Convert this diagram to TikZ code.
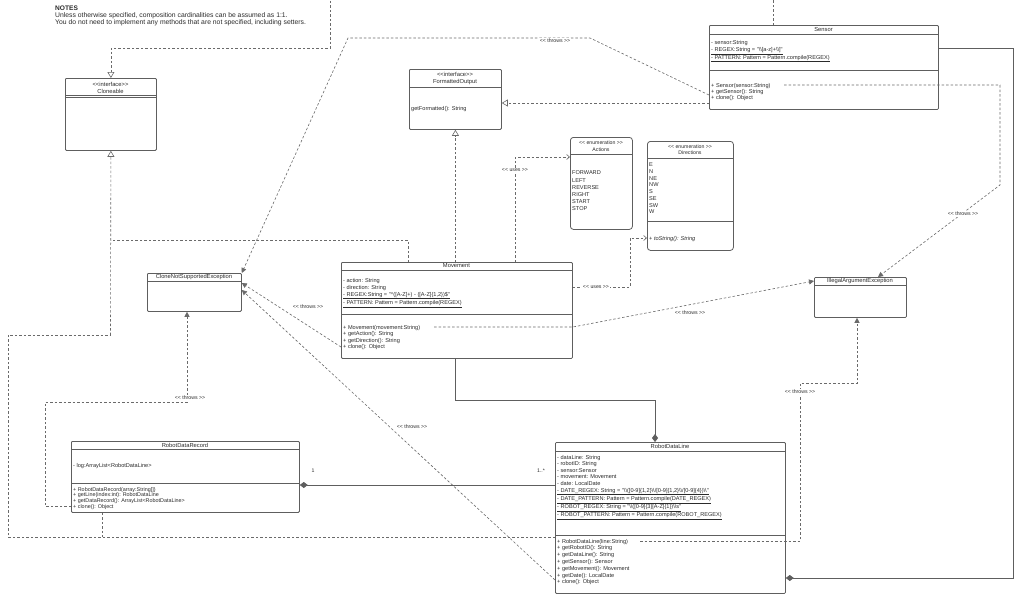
\documentclass[tikz,border=0pt]{standalone}
\usepackage{fontspec}
\setmainfont{Liberation Sans}[Ligatures=TeXOff]
\usetikzlibrary{arrows.meta}
\definecolor{linegray}{HTML}{5E5E5E}
\definecolor{linkgray}{HTML}{6A6A6A}
\definecolor{textgray}{HTML}{2B2B2B}

\tikzset{
    umlbox/.style={draw=linegray, fill=white, line width=0.8pt, rounded corners=1pt,
        anchor=north west, inner sep=0pt},
    enumbox/.style={umlbox, rounded corners=3pt},
    divider/.style={draw=linegray, line width=0.8pt},
    title/.style={font=\fontsize{5.8}{7}\selectfont, align=center, inner sep=0pt, text=textgray},
    members/.style={font=\fontsize{5.6}{6.6}\selectfont, align=left, anchor=north west,
        inner sep=0pt, text=textgray},
    tag/.style={font=\fontsize{5.2}{6}\selectfont, fill=white, inner sep=0.8pt, text=textgray},
    link/.style={draw=linkgray, line width=0.6pt, dash pattern=on 2.5pt off 2pt},
    realize/.style={link, -{Triangle[open, length=6pt, width=7pt]}},
    throws/.style={link, -{Triangle[length=5pt, width=5pt]}},
    uses/.style={link, -{Straight Barb[length=3pt, width=5pt]}},
    compose/.style={draw=linegray, line width=0.7pt, {Diamond[length=8pt, width=6pt]}-}
}

\begin{document}
\begin{tikzpicture}[x=1pt, y=-1pt]
    \useasboundingbox[fill=white] (0,0) rectangle (1024,597);

    % notes
    \node[anchor=west, inner sep=0pt, font=\fontsize{6.6}{7}\selectfont\bfseries, text=textgray] (notes) at (55,8) {NOTES};
    \node[members, font=\fontsize{6.8}{7.2}\selectfont] (notetext) at (55,12.2) {Unless otherwise specified, composition cardinalities can be assumed as 1:1.\\You do not need to implement any methods that are not specified, including setters.};

    % interfaces
    \node[umlbox, minimum width=91pt, minimum height=72pt] (cloneable) at (65,78) {};
    \draw[divider] (cloneable.west |- 0,95.5) -- (cloneable.east |- 0,95.5);
    \draw[divider] (cloneable.west |- 0,97.3) -- (cloneable.east |- 0,97.3);
    \node[title] at (110.5,87.5) {<<interface>>\\Cloneable};

    \node[umlbox, minimum width=92pt, minimum height=60pt] (formatted) at (409,69) {};
    \draw[divider] (formatted.west |- 0,87) -- (formatted.east |- 0,87);
    \node[title] at (455,78) {<<interface>>\\FormattedOutput};
    \node[members] at (411,105.8) {getFormatted(): String};

    % Sensor
    \node[umlbox, minimum width=229pt, minimum height=84pt] (sensor) at (709,25) {};
    \draw[divider] (sensor.west |- 0,34) -- (sensor.east |- 0,34);
    \draw[divider] (sensor.west |- 0,70) -- (sensor.east |- 0,70);
    \node[title] at (823.5,29.5) {Sensor};
    \node[members, font=\fontsize{5.6}{7.5}\selectfont] at (711,39.8) {- sensor:String\\\underline{- REGEX:String = "\textbackslash\textbackslash[a-z]+\textbackslash\textbackslash]"}\\\underline{- PATTERN: Pattern = Pattern.compile(REGEX)}};
    \node[members, font=\fontsize{5.6}{6.3}\selectfont] at (711,82.8) {+ Sensor(sensor:String)\\+ getSensor(): String\\+ clone(): Object};

    % enumerations
    \node[enumbox, minimum width=62pt, minimum height=92pt] (actions) at (570,137) {};
    \draw[divider] (actions.west |- 0,154) -- (actions.east |- 0,154);
    \node[title, font=\fontsize{5.2}{6.5}\selectfont] at (601,146) {<< enumeration >>\\Actions};
    \node[members, font=\fontsize{5.6}{7.2}\selectfont] at (572,170.8) {FORWARD\\LEFT\\REVERSE\\RIGHT\\START\\STOP};

    \node[enumbox, minimum width=86pt, minimum height=109pt] (directions) at (647,141) {};
    \draw[divider] (directions.west |- 0,158) -- (directions.east |- 0,158);
    \draw[divider] (directions.west |- 0,221) -- (directions.east |- 0,221);
    \node[title, font=\fontsize{5.2}{6.5}\selectfont] at (690,149.5) {<< enumeration >>\\Directions};
    \node[members, font=\fontsize{5.6}{6.7}\selectfont] at (649,162.8) {E\\N\\NE\\NW\\S\\SE\\SW\\W};
    \node[members] at (649,235.8) {+ \textit{toString(): String}};

    % Movement
    \node[umlbox, minimum width=231pt, minimum height=96pt] (movement) at (341,262) {};
    \draw[divider] (movement.west |- 0,270) -- (movement.east |- 0,270);
    \draw[divider] (movement.west |- 0,314) -- (movement.east |- 0,314);
    \node[title] at (456.5,266) {Movement};
    \node[members, font=\fontsize{5.6}{7}\selectfont] at (343,277.8) {- action: String\\- direction: String\\\underline{- REGEX:String = "\textasciicircum([A-Z]+) - ([A-Z]\{1,2\})\$"}\\\underline{- PATTERN: Pattern = Pattern.compile(REGEX)}};
    \node[members, font=\fontsize{5.6}{6.5}\selectfont] at (343,324.8) {+ Movement(movement:String)\\+ getAction(): String\\+ getDirection(): String\\+ clone(): Object};

    % exceptions
    \node[umlbox, minimum width=94pt, minimum height=38pt] (cnse) at (147,273) {};
    \draw[divider] (cnse.west |- 0,281) -- (cnse.east |- 0,281);
    \node[title] at (194,277) {CloneNotSupportedException};

    \node[umlbox, minimum width=92pt, minimum height=40pt] (iae) at (814,277) {};
    \draw[divider] (iae.west |- 0,285) -- (iae.east |- 0,285);
    \node[title] at (860,281) {IllegalArgumentException};

    % RobotDataRecord
    \node[umlbox, minimum width=228pt, minimum height=71pt] (rdr) at (71,441) {};
    \draw[divider] (rdr.west |- 0,449) -- (rdr.east |- 0,449);
    \draw[divider] (rdr.west |- 0,483) -- (rdr.east |- 0,483);
    \node[title] at (185,445) {RobotDataRecord};
    \node[members] at (73,462.8) {- log:ArrayList<RobotDataLine>};
    \node[members, font=\fontsize{5.4}{5.8}\selectfont] at (73,487) {+ RobotDataRecord(array:String[])\\+ getLine(index:int): RobotDataLine\\+ getDataRecord(): ArrayList<RobotDataLine>\\+ clone(): Object};

    % RobotDataLine
    \node[umlbox, minimum width=230pt, minimum height=151pt] (rdl) at (555,442) {};
    \draw[divider] (rdl.west |- 0,451) -- (rdl.east |- 0,451);
    \draw[divider] (rdl.west |- 0,535) -- (rdl.east |- 0,535);
    \node[title] at (670,446.5) {RobotDataLine};
    \node[members, font=\fontsize{5.6}{6.6}\selectfont] at (557,454.8) {- dataLine: String\\- robotID: String\\- sensor:Sensor\\- movement: Movement\\- date: LocalDate\\\underline{- DATE\_REGEX: String = "\textbackslash\textbackslash([0-9]\{1,2\}\textbackslash\textbackslash/[0-9]\{1,2\}\textbackslash\textbackslash/[0-9]\{4\})\textbackslash\textbackslash"}\\\underline{- DATE\_PATTERN: Pattern = Pattern.compile(DATE\_REGEX)}\\\underline{- ROBOT\_REGEX: String = "\textbackslash\textbackslash([0-9]\{3\}[A-Z]\{1\})\textbackslash\textbackslash s"}\\\underline{- ROBOT\_PATTERN: Pattern = Pattern.compile(ROBOT\_REGEX)}};
    \node[members, font=\fontsize{5.6}{6.8}\selectfont] at (557,538.8) {+ RobotDataLine(line:String)\\+ getRobotID(): String\\+ getDataLine(): String\\+ getSensor(): Sensor\\+ getMovement(): Movement\\+ getDate(): LocalDate\\+ clone(): Object};

    % realizations of Cloneable
    \coordinate (cltrunk) at (110.5,335);
    \draw[realize] (cltrunk) -- (cloneable.south);
    \draw[link] (movement.north -| 408,0) |- (110.5,240);
    \draw[link] (rdl.west |- 0,537) -- (8,537) |- (cltrunk);
    \draw[link] (rdr.south -| 102,0) -- (102,537);
    \draw[realize] (sensor.north -| 773,0) -- (773,-4) -| (330,48) -| (cloneable.north);

    % realizations of FormattedOutput
    \draw[realize] (sensor.west |- 0,103) -- (formatted.east |- 0,103);
    \draw[realize] (movement.north -| formatted.south) -- (formatted.south);

    % dependencies
    \draw[uses] (movement.north -| 515,0) |- (actions.west |- 0,157);
    \draw[uses] (movement.east |- 0,287) -- (630,287) |- (directions.west |- 0,238);
    \node[tag] at (515,170) {<< uses >>};
    \node[tag] at (596,287) {<< uses >>};

    % throws CloneNotSupportedException
    \draw[throws] (sensor.west |- 0,95) -- (590,38) -- (348,38) -- (cnse.north east);
    \draw[throws] (movement.west |- 0,347) -- (cnse.east |- 0,283);
    \draw[throws] (rdl.west |- 0,580) -- (cnse.east |- 0,290);
    \draw[throws] (rdr.west |- 0,506) -- (45,506) |- (187,402) -- (cnse.south -| 187,0);
    \node[tag] at (555,41) {<< throws >>};
    \node[tag] at (308,307) {<< throws >>};
    \node[tag] at (412,427) {<< throws >>};
    \node[tag] at (190,398) {<< throws >>};

    % throws IllegalArgumentException
    \coordinate (snctor) at (784,85);
    \coordinate (mvctor) at (434,327);
    \coordinate (rlctor) at (640,541);
    \draw[throws] (snctor) -- (1000,85) -- (1000,185) -- (iae.north -| 878,0);
    \draw[throws] (mvctor) -- (movement.east |- 0,327) -- (iae.west |- 0,281);
    \draw[throws] (rlctor) -- (800,541) |- (857,383) -- (iae.south -| 857,0);
    \node[tag] at (963,214) {<< throws >>};
    \node[tag] at (690,313) {<< throws >>};
    \node[tag] at (800,392) {<< throws >>};

    % compositions
    \draw[compose] (rdl.north -| 655,0) |- (455,400) -- (movement.south -| 455,0);
    \draw[compose] (rdr.east |- 0,485) -- (rdl.west |- 0,485);
    \draw[compose] (rdl.east |- 0,578) -| (1013,48) -- (sensor.east |- 0,48);
    \node[tag, fill=none] at (313,471) {1};
    \node[tag, fill=none] at (541,471) {1..*};
\end{tikzpicture}
\end{document}
